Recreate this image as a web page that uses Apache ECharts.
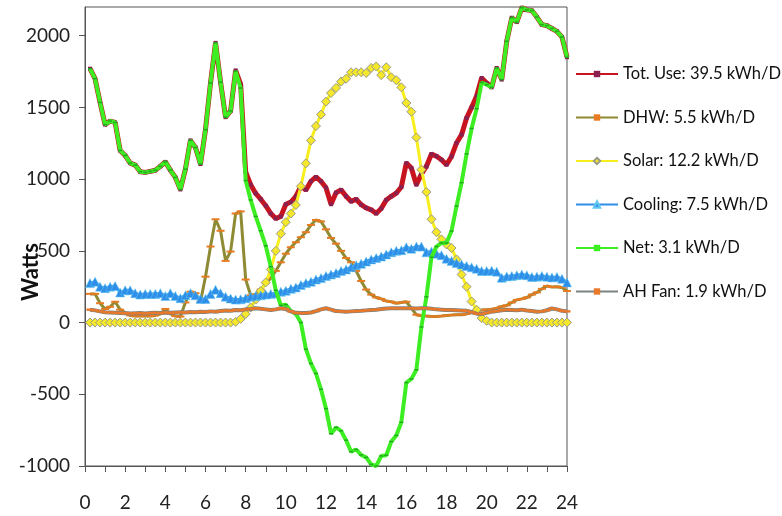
<!DOCTYPE html>
<html>
<head>
<meta charset="utf-8">
<script src="https://cdn.jsdelivr.net/npm/echarts@6/dist/echarts.min.js"></script>
<style>
html,body{margin:0;padding:0;background:#fff;}
#chart{width:782px;height:516px;}
</style>
</head>
<body>
<div id="chart"></div>
<script>
var hours = [0.25,0.5,0.75,1,1.25,1.5,1.75,2,2.25,2.5,2.75,3,3.25,3.5,3.75,4,4.25,4.5,4.75,5,
5.25,5.5,5.75,6,6.25,6.5,6.75,7,7.25,7.5,7.75,8,8.25,8.5,8.75,9,9.25,9.5,9.75,10,
10.25,10.5,10.75,11,11.25,11.5,11.75,12,12.25,12.5,12.75,13,13.25,13.5,13.75,14,14.25,14.5,14.75,15,
15.25,15.5,15.75,16,16.25,16.5,16.75,17,17.25,17.5,17.75,18,18.25,18.5,18.75,19,19.25,19.5,19.75,20,
20.25,20.5,20.75,21,21.25,21.5,21.75,22,22.25,22.5,22.75,23,23.25,23.5,23.75,24];

var totUse = [1770,1700,1535,1380,1405,1395,1200,1165,1112,1098,
1052,1047,1054,1062,1089,1120,1063,1012,928,1070,
1270,1220,1105,1345,1670,1950,1676,1432,1475,1758,
1660,1050,960,900,860,815,760,725,740,825,
840,880,950,925,985,1015,985,940,825,905,
925,880,845,860,822,800,786,760,795,855,
880,903,945,1112,1077,961,1035,1089,1175,1160,
1135,1100,1158,1252,1310,1426,1500,1580,1705,1670,
1640,1775,1694,1961,2125,2095,2195,2180,2175,2130,
2077,2070,2050,2030,1990,1850];

var dhw = [200,200,135,95,110,145,90,70,50,45,
45,45,45,50,60,95,60,45,42,140,
215,205,145,320,530,720,640,430,495,760,
775,300,190,195,230,275,310,360,420,480,
525,560,595,630,680,715,705,650,590,550,
500,450,420,360,290,230,195,175,165,150,
145,135,140,145,100,55,48,45,42,42,
45,50,52,55,55,60,75,80,88,90,
92,100,112,120,140,158,165,175,195,210,
235,255,248,250,245,220];

var solar = [0,0,0,0,0,0,0,0,0,0,
0,0,0,0,0,0,0,0,0,0,
0,0,0,0,0,0,0,0,0,5,
25,60,105,160,220,280,370,500,620,700,
760,820,950,1110,1270,1370,1450,1540,1600,1636,
1680,1700,1745,1745,1745,1740,1775,1785,1725,1780,
1710,1690,1640,1531,1470,1290,1066,910,720,630,
580,545,520,440,335,250,147,89,31,12,
0,0,0,0,0,0,0,0,0,0,
0,0,0,0,0,0];

var cooling = [275,285,250,240,250,255,210,225,225,205,
195,200,200,200,205,185,205,185,170,190,
205,190,165,165,200,228,205,180,168,160,
162,170,180,185,190,195,200,205,215,222,
235,245,262,275,285,300,310,325,335,345,
360,370,385,400,410,425,440,450,460,475,
490,500,505,525,515,530,530,490,495,480,
470,445,430,415,405,395,385,375,360,360,
362,355,312,322,325,330,335,330,318,320,
325,320,315,318,305,280];

var net = [1770,1700,1535,1380,1405,1395,1200,1165,1112,1098,
1052,1047,1054,1062,1089,1120,1063,1012,928,1070,
1270,1220,1105,1345,1670,1950,1676,1432,1475,1753,
1635,990,855,740,640,535,390,225,120,125,
80,60,0,-185,-285,-355,-465,-600,-775,-731,
-755,-820,-900,-885,-923,-940,-989,-1000,-930,-925,
-830,-787,-695,-419,-393,-329,-31,179,455,530,
555,555,638,812,975,1176,1353,1491,1674,1658,
1640,1775,1694,1961,2125,2095,2195,2180,2175,2130,
2077,2070,2050,2030,1990,1850];

var ahFan = [90,85,78,72,70,68,66,65,64,65,
66,64,66,68,66,70,68,70,72,70,
74,72,75,74,78,76,80,84,82,88,
86,92,95,100,96,92,88,92,100,94,
78,68,66,66,70,80,92,100,90,80,
78,76,78,80,82,85,88,90,94,98,
100,100,100,100,100,98,100,100,96,92,
90,88,88,86,84,82,72,62,60,68,
76,80,86,90,88,86,90,84,80,76,
78,86,98,92,82,78];

var names = ['Tot. Use: 39.5 kWh/D','DHW: 5.5 kWh/D','Solar: 12.2 kWh/D','Cooling: 7.5 kWh/D','Net: 3.1 kWh/D','AH Fan: 1.9 kWh/D'];
var yTicks = [-1000,-500,0,500,1000,1500,2000];

function pairs(arr){ return hours.map(function(h,i){ return [h, arr[i]]; }); }

var FONT = 'Lato';
var chart = echarts.init(document.getElementById('chart'), null, {renderer:'canvas'});
chart.setOption({
  animation:false,
  backgroundColor:'#fff',
  grid:{left:85, right:215, top:7, bottom:50, show:true, borderColor:'#555', borderWidth:1},
  xAxis:{
    type:'value', min:0, max:24, interval:1,
    axisLine:{onZero:false, lineStyle:{color:'#555', width:1}},
    axisTick:{show:true, inside:false, length:6, lineStyle:{color:'#555'}},
    axisLabel:{margin:27, fontFamily:FONT, fontSize:19, color:'#222',
      formatter:function(v){ return (v % 2 === 0) ? String(v) : ''; }},
    splitLine:{show:false}
  },
  yAxis:{
    type:'value', min:-1000, max:2200, interval:500,
    axisLine:{show:true, lineStyle:{color:'#555', width:1}},
    axisTick:{show:true, length:6, lineStyle:{color:'#555'}, customValues:yTicks},
    axisLabel:{margin:15, fontFamily:FONT, fontSize:19, color:'#222', customValues:yTicks,
      formatter:function(v){ return String(v); }},
    splitLine:{show:false}
  },
  legend:{
    orient:'vertical', left:570, top:59, itemWidth:42, itemHeight:8, itemGap:23.5,
    textStyle:{fontFamily:FONT, fontSize:16.5, color:'#111', lineHeight:20},
    data:[
      {name:names[0]},
      {name:names[1], itemStyle:{color:'#e87a22'}},
      {name:names[2]},
      {name:names[3]},
      {name:names[4], itemStyle:{color:'#3cee22'}},
      {name:names[5]}
    ]
  },
  graphic:[{
    type:'text', x:31, y:272, rotation:Math.PI/2,
    style:{text:'Watts', fontFamily:FONT, fontWeight:'bold', fontSize:22, fill:'#111', textAlign:'center', textVerticalAlign:'middle'}
  }],
  series:[
    {name:names[0], type:'line', data:pairs(totUse), lineStyle:{color:'#c8141e', width:5},
      itemStyle:{color:'#8a2050'}, symbol:'rect', symbolSize:4, showSymbol:true, z:2},
    {name:names[1], type:'line', data:pairs(dhw), lineStyle:{color:'#8f8a34', width:3},
      itemStyle:{color:'#e87a22'}, symbol:'rect', symbolSize:[8,2], z:3},
    {name:names[2], type:'line', data:pairs(solar), lineStyle:{color:'#f7ee1c', width:3},
      itemStyle:{color:'#f5e82a', borderColor:'#9a9a8a', borderWidth:1}, symbol:'diamond', symbolSize:9, z:4},
    {name:names[3], type:'line', data:pairs(cooling), lineStyle:{color:'#2e8ee8', width:3},
      itemStyle:{color:'#2e8ee8', borderColor:'#60c8f0', borderWidth:0.5}, symbol:'triangle', symbolSize:9, z:5},
    {name:names[4], type:'line', data:pairs(net), lineStyle:{color:'#3cee22', width:4},
      itemStyle:{color:'#22a822'}, symbol:'rect', symbolSize:[4,1.5], z:6},
    {name:names[5], type:'line', data:pairs(ahFan), lineStyle:{color:'#7a8282', width:4},
      itemStyle:{color:'#e8782a'}, symbol:'rect', symbolSize:[7,2.5], z:7}
  ]
});
</script>
</body>
</html>
